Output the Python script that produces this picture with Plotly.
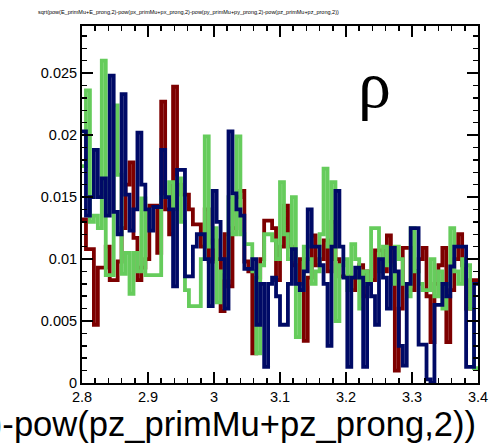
import plotly.graph_objects as go

# Histogram binning
x_min, x_max, n_bins = 2.8, 3.4, 100

red_vals = [0.0132,0.0108,0.0108,0.0047,0.0093,0.0093,0.0110,0.0083,0.0083,0.0098,
            0.0125,0.0160,0.0178,0.0117,0.0083,0.0093,0.0100,0.0143,0.0143,0.0105,
            0.0227,0.0140,0.0120,0.0239,0.0160,0.0152,0.0152,0.0140,0.0128,0.0128,
            0.0110,0.0140,0.0098,0.0115,0.0100,0.0058,0.0120,0.0078,0.0125,0.0150,
            0.0155,0.0098,0.0090,0.0024,0.0085,0.0100,0.0131,0.0131,0.0125,0.0083,
            0.0110,0.0143,0.0110,0.0095,0.0080,0.0100,0.0034,0.0085,0.0119,0.0095,
            0.0100,0.0115,0.0090,0.0130,0.0100,0.0086,0.0086,0.0086,0.0075,0.0085,
            0.0095,0.0070,0.0090,0.0083,0.0107,0.0107,0.0090,0.0119,0.0095,0.0010,
            0.0060,0.0109,0.0109,0.0075,0.0090,0.0100,0.0109,0.0070,0.0033,0.0080,
            0.0095,0.0109,0.0033,0.0075,0.0100,0.0120,0.0095,0.0060,0.0083,0.0083]

green_vals = [0.0175,0.0236,0.0130,0.0135,0.0125,0.0260,0.0087,0.0087,0.0224,0.0168,
              0.0088,0.0105,0.0072,0.0105,0.0090,0.0149,0.0087,0.0087,0.0087,0.0087,
              0.0150,0.0150,0.0162,0.0140,0.0165,0.0130,0.0075,0.0062,0.0062,0.0062,
              0.0100,0.0199,0.0110,0.0125,0.0065,0.0090,0.0085,0.0150,0.0120,0.0199,
              0.0120,0.0112,0.0112,0.0090,0.0024,0.0095,0.0120,0.0120,0.0115,0.0100,
              0.0162,0.0120,0.0100,0.0150,0.0037,0.0075,0.0110,0.0100,0.0080,0.0090,
              0.0120,0.0173,0.0110,0.0162,0.0050,0.0095,0.0100,0.0075,0.0112,0.0100,
              0.0060,0.0090,0.0080,0.0125,0.0125,0.0090,0.0110,0.0095,0.0080,0.0110,
              0.0100,0.0080,0.0070,0.0125,0.0090,0.0080,0.0075,0.0075,0.0100,0.0070,
              0.0090,0.0060,0.0080,0.0125,0.0090,0.0080,0.0100,0.0095,0.0060,0.0012]

navy_vals = [0.0203,0.0135,0.0150,0.0188,0.0150,0.0165,0.0135,0.0248,0.0138,0.0120,
             0.0233,0.0152,0.0123,0.0140,0.0202,0.0160,0.0140,0.0123,0.0142,0.0142,
             0.0188,0.0150,0.0140,0.0078,0.0172,0.0172,0.0086,0.0086,0.0110,0.0120,
             0.0120,0.0100,0.0062,0.0155,0.0130,0.0100,0.0060,0.0203,0.0153,0.0140,
             0.0135,0.0092,0.0092,0.0100,0.0047,0.0080,0.0013,0.0080,0.0085,0.0070,
             0.0047,0.0047,0.0080,0.0108,0.0080,0.0075,0.0090,0.0140,0.0110,0.0110,
             0.0095,0.0080,0.0030,0.0110,0.0155,0.0110,0.0085,0.0013,0.0085,0.0093,
             0.0085,0.0013,0.0080,0.0070,0.0047,0.0100,0.0085,0.0060,0.0109,0.0090,
             0.0030,0.0014,0.0080,0.0125,0.0125,0.0031,0.0031,0.0003,0.0000,0.0063,
             0.0063,0.0080,0.0070,0.0094,0.0110,0.0110,0.0110,0.0013,0.0013,0.0080]

x_tick_vals = [2.8, 2.9, 3.0, 3.1, 3.2, 3.3, 3.4]
x_tick_text = ["2.8", "2.9", "3", "3.1", "3.2", "3.3", "3.4"]
y_tick_vals = [0, 0.005, 0.01, 0.015, 0.02, 0.025]
y_tick_text = ["0", "0.005", "0.01", "0.015", "0.02", "0.025"]

title_text = "sqrt(pow(E_primMu+E_prong,2)-pow(px_primMu+px_prong,2)-pow(py_primMu+py_prong,2)-pow(pz_primMu+pz_prong,2))"
x_title = title_text
label_text = "ρ"

bw = (x_max - x_min) / n_bins
edges = [x_min + i * bw for i in range(n_bins + 1)]

fig = go.Figure()
for vals, col in [(red_vals, "#7d0000"), (green_vals, "#66cc5c"), (navy_vals, "#000a66")]:
    fig.add_trace(go.Scatter(x=edges, y=vals + [vals[-1]], mode="lines",
                             line=dict(shape="hv", color=col, width=3.8),
                             showlegend=False, hoverinfo="skip"))

FONT = "Liberation Sans, Arial, Helvetica, sans-serif"
fig.update_layout(
    width=490, height=447,
    margin=dict(l=82, r=12, t=26, b=64, autoexpand=False),
    paper_bgcolor="white", plot_bgcolor="white",
    font=dict(family=FONT, color="black"),
    xaxis=dict(range=[x_min, x_max], tickvals=x_tick_vals, ticktext=x_tick_text,
               automargin=False,
               ticks="inside", ticklen=11, tickwidth=2, tickcolor="black",
               showline=True, linecolor="black", linewidth=2, mirror="allticks",
               showgrid=False, zeroline=False, tickfont=dict(size=14.5),
               minor=dict(dtick=0.02, ticks="inside", ticklen=5, tickwidth=1.5, tickcolor="black")),
    yaxis=dict(range=[0, 0.0288], tickvals=y_tick_vals, ticktext=y_tick_text,
               automargin=False,
               ticks="inside", ticklen=11, tickwidth=2, tickcolor="black",
               showline=True, linecolor="black", linewidth=2, mirror="allticks",
               showgrid=False, zeroline=False, tickfont=dict(size=14.5),
               minor=dict(dtick=0.001, ticks="inside", ticklen=5, tickwidth=1.5, tickcolor="black")),
    annotations=[
        dict(text=title_text, xref="paper", yref="paper", x=(188 - 82) / 396, y=1 + 14 / 357,
             xanchor="center", yanchor="middle", showarrow=False,
             font=dict(size=5.5, family=FONT)),
        dict(text=x_title, xref="paper", yref="paper", x=1.0, y=-(424 - 383) / 357,
             xanchor="right", yanchor="middle", showarrow=False,
             font=dict(size=34.6, family=FONT)),
        dict(text=label_text, xref="paper", yref="paper", x=(374 - 82) / 396, y=(383 - 84) / 357,
             xanchor="center", yanchor="middle", showarrow=False,
             font=dict(size=66, family="Liberation Serif, Times New Roman, serif")),
    ],
)
fig.write_html("out.html", config={"displayModeBar": False, "staticPlot": True},
               post_script="document.body.style.margin='0';document.body.style.overflow='hidden';")
